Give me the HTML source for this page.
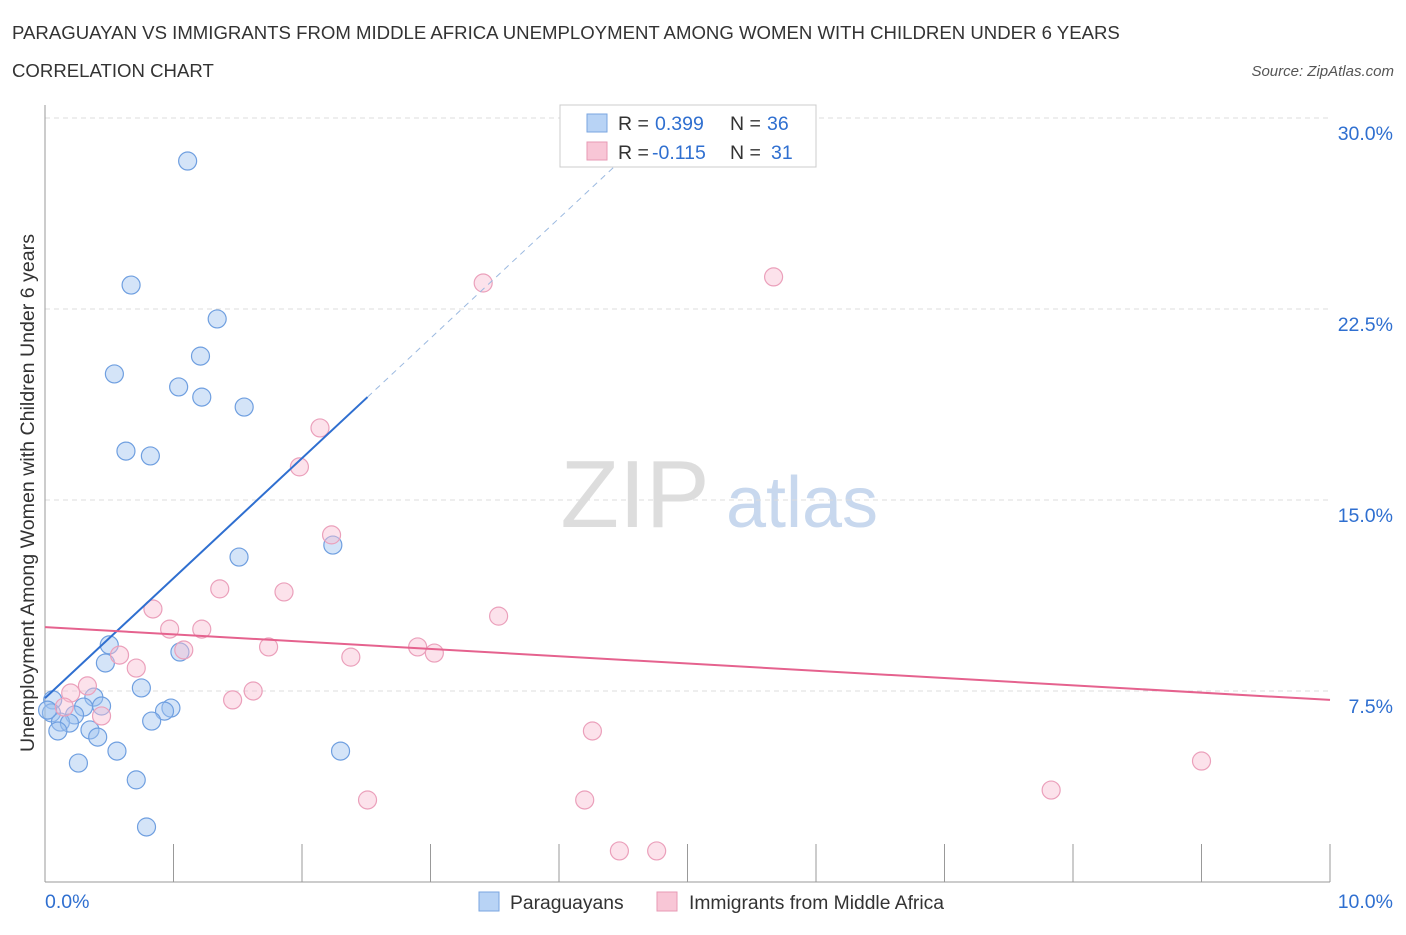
<!DOCTYPE html>
<html><head><meta charset="utf-8"><style>
body{margin:0;background:#fff;font-family:"Liberation Sans",sans-serif;}
svg text{font-family:"Liberation Sans",sans-serif;}
</style></head><body>
<svg id="chart" width="1406" height="930">
<text x="12" y="39" font-size="18.6" fill="#333">PARAGUAYAN VS IMMIGRANTS FROM MIDDLE AFRICA UNEMPLOYMENT AMONG WOMEN WITH CHILDREN UNDER 6 YEARS</text>
<text x="12" y="77" font-size="18.6" fill="#333">CORRELATION CHART</text>
<text x="1394" y="76" font-size="15" fill="#555" font-style="italic" text-anchor="end">Source: ZipAtlas.com</text>
<text x="635" y="527" font-size="96" fill="#ddd" text-anchor="middle" font-family="Liberation Serif">ZIP</text>
<text x="802" y="527" font-size="72" fill="#c8d8ee" text-anchor="middle">atlas</text>
<text transform="translate(34,493) rotate(-90)" font-size="19.6" fill="#333" text-anchor="middle">Unemployment Among Women with Children Under 6 years</text>
<g id="grid"></g><g id="marks"></g>
<g>
<rect x="560" y="105" width="256" height="62" fill="#fff" stroke="#ccc"/>
<rect x="587" y="114" width="20" height="18" fill="#b8d3f5" stroke="#7aa6e0"/>
<rect x="587" y="142" width="20" height="18" fill="#f8c6d6" stroke="#e79ab4"/>
<text x="618" y="130" font-size="19.5" fill="#333">R =</text>
<text x="655" y="130" font-size="19.5" fill="#2f6fd0">0.399</text>
<text x="730" y="130" font-size="19.5" fill="#333">N =</text>
<text x="767" y="130" font-size="19.5" fill="#2f6fd0">36</text>
<text x="618" y="159" font-size="19.5" fill="#333">R =</text>
<text x="652" y="159" font-size="19.5" fill="#2f6fd0">-0.115</text>
<text x="730" y="159" font-size="19.5" fill="#333">N =</text>
<text x="771" y="159" font-size="19.5" fill="#2f6fd0">31</text>
</g>
<g>
<rect x="479" y="892" width="20" height="19" fill="#b8d3f5" stroke="#7aa6e0"/>
<text x="510" y="909" font-size="19.3" fill="#333">Paraguayans</text>
<rect x="657" y="892" width="20" height="19" fill="#f8c6d6" stroke="#e79ab4"/>
<text x="689" y="909" font-size="19.3" fill="#333">Immigrants from Middle Africa</text>
</g>
</svg>
<script>
const yTicks=[7.5,15,22.5,30];
const yTickLabels=["7.5%","15.0%","22.5%","30.0%"];
const xTicks=[0,1,2,3,4,5,6,7,8,9,10];
const blueX=[1.11,0.67,1.34,1.21,0.54,1.04,1.22,1.55,0.63,0.82,1.51,2.24,0.50,1.05,0.47,0.75,0.38,0.98,0.93,0.44,0.30,0.06,0.05,0.23,0.12,0.19,0.10,0.35,0.41,0.83,0.56,2.30,0.26,0.71,0.79,0.02];
const blueY=[28.31,23.44,22.11,20.65,19.95,19.44,19.04,18.65,16.92,16.73,12.76,13.23,9.31,9.03,8.60,7.62,7.26,6.83,6.71,6.91,6.87,7.15,6.64,6.56,6.28,6.24,5.93,5.97,5.69,6.32,5.14,5.14,4.67,4.01,2.16,6.75];
const pinkX=[3.41,5.67,2.14,1.98,2.23,1.36,1.86,0.84,3.53,0.97,1.22,1.74,1.08,2.90,3.03,2.38,0.58,0.71,0.33,0.20,1.62,1.46,0.44,0.15,4.26,9.00,7.83,2.51,4.20,4.47,4.76];
const pinkY=[23.52,23.76,17.83,16.30,13.63,11.51,11.39,10.72,10.44,9.93,9.93,9.23,9.11,9.23,8.99,8.83,8.91,8.40,7.70,7.42,7.50,7.15,6.52,6.87,5.93,4.75,3.61,3.22,3.22,1.22,1.22];
const blueTrend=[7.22,4.71]; const blueSolidEnd=2.51; const blueDashEnd=4.48;
const pinkTrend=[10.01,-0.286];
const X=v=>45+v*128.5, Y=v=>882-v*25.467;
const NS="http://www.w3.org/2000/svg";
function mk(t,a,p){const e=document.createElementNS(NS,t);for(const k in a)e.setAttribute(k,a[k]);p.appendChild(e);return e;}
const g=document.getElementById('grid'), m=document.getElementById('marks');
yTicks.forEach((t,i)=>{
 const l=mk('line',{x1:45,x2:1330,y1:Y(t),y2:Y(t),stroke:'#ddd','stroke-dasharray':'5,4'},g);
 
 
 const tx=mk('text',{x:1393,y:Y(t)+22,'font-size':19.5,fill:'#2f6fd0','text-anchor':'end'},g);tx.textContent=yTickLabels[i];
 
 
});
mk('line',{x1:45,x2:45,y1:105,y2:882,stroke:'#999'},g);
mk('line',{x1:45,x2:1330,y1:882,y2:882,stroke:'#999'},g);
xTicks.forEach(t=>{const l=mk('line',{x1:X(t),x2:X(t),y1:844,y2:882,stroke:'#999'},g);
 
 });
let a=mk('text',{x:45,y:908,'font-size':19.5,fill:'#2f6fd0'},g);a.textContent='0.0%';


a=mk('text',{x:1393,y:908,'font-size':19.5,fill:'#2f6fd0','text-anchor':'end'},g);a.textContent='10.0%';


blueX.forEach((x,i)=>{const c=mk('circle',{cx:X(x),cy:Y(blueY[i]),r:9,fill:'rgba(160,195,240,0.45)',stroke:'#6f9fe0','stroke-width':1.2},m);
 
 });
pinkX.forEach((x,i)=>{const c=mk('circle',{cx:X(x),cy:Y(pinkY[i]),r:9,fill:'rgba(248,190,210,0.45)',stroke:'#eba0bb','stroke-width':1.2},m);
 
 });
let tl=mk('line',{x1:X(0),y1:Y(blueTrend[0]),x2:X(blueSolidEnd),y2:Y(blueTrend[0]+blueTrend[1]*blueSolidEnd),stroke:'#2f6fd0','stroke-width':2},m);


tl=mk('line',{x1:X(blueSolidEnd),y1:Y(blueTrend[0]+blueTrend[1]*blueSolidEnd),x2:X(blueDashEnd),y2:Y(blueTrend[0]+blueTrend[1]*blueDashEnd),stroke:'#9bb9e0','stroke-width':1,'stroke-dasharray':'6,5'},m);


tl=mk('line',{x1:X(0),y1:Y(pinkTrend[0]),x2:X(10),y2:Y(pinkTrend[0]+pinkTrend[1]*10),stroke:'#e5628e','stroke-width':2},m);


</script>
</body></html>
